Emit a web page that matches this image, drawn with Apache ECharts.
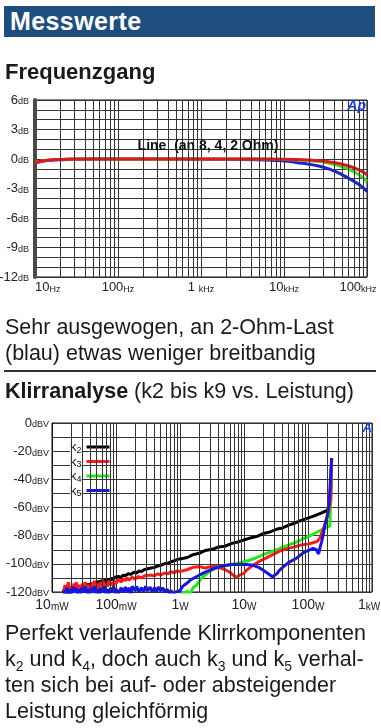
<!DOCTYPE html>
<html><head><meta charset="utf-8">
<script src="https://cdn.jsdelivr.net/npm/echarts@6/dist/echarts.min.js"></script>
<style>
html,body{margin:0;padding:0;width:381px;height:728px;overflow:hidden;background:#fff;font-family:'Liberation Sans',Arial,sans-serif;color:#1a1a1a}
#chart{position:absolute;left:0;top:0;width:381px;height:728px}
.t{position:absolute;left:5px;white-space:nowrap;z-index:2}
#hdr{position:absolute;left:4px;top:6px;width:371px;height:31px;background:#1d4e7d;color:#fff;font-weight:bold;font-size:25px;line-height:31px;padding-left:6px;box-sizing:border-box;letter-spacing:0.4px;z-index:2}
#h1{top:59px;font-size:22px;line-height:26px;font-weight:bold}
#p1{top:314px;font-size:21.5px;line-height:26px}
#sep{position:absolute;left:4px;top:370px;width:372px;height:2px;background:#333;z-index:2}
#h2{top:378px;font-size:21.5px;line-height:26px}
#p2{top:620px;font-size:21.5px;line-height:26px}
sub{font-size:14px;vertical-align:-5px;line-height:0}
</style></head>
<body>
<div id="chart"></div>
<div id="hdr">Messwerte</div>
<div class="t" id="h1">Frequenzgang</div>
<div class="t" id="p1">Sehr ausgewogen, an 2-Ohm-Last<br>(blau) etwas weniger breitbandig</div>
<div id="sep"></div>
<div class="t" id="h2"><b>Klirranalyse</b> (k2 bis k9 vs. Leistung)</div>
<div class="t" id="p2">Perfekt verlaufende Klirrkomponenten<br>k<sub>2</sub> und k<sub>4</sub>, doch auch k<sub>3</sub> und k<sub>5</sub> verhal-<br>ten sich bei auf- oder absteigender<br>Leistung gleichförmig</div>
<script>
// ---- Frequenzgang data: [Hz, dB]
const fg8Ohm = [[10,-0.35],[12,-0.2],[15,-0.1],[20,-0.05],[30,0],[100,0],[1000,0],[5000,0],[10000,-0.02],[14000,-0.05],[22400,-0.12],[36000,-0.3],[57000,-0.65],[80000,-1.1],[100000,-1.6]];
const fg4Ohm = [[10,-0.35],[12,-0.2],[15,-0.1],[20,-0.05],[30,0],[1000,0],[5000,-0.01],[10000,-0.05],[14000,-0.1],[22400,-0.2],[36000,-0.45],[57000,-0.95],[80000,-1.6],[100000,-2.3]];
const fg2Ohm = [[10,-0.4],[12,-0.25],[15,-0.15],[20,-0.08],[30,-0.03],[100,0],[1000,-0.02],[5000,-0.08],[10000,-0.2],[14000,-0.35],[22400,-0.6],[36000,-1.05],[57000,-1.85],[80000,-2.6],[100000,-3.3]];
const fgXTickLabels = [['10','Hz'],['100','Hz'],['1 ','kHz'],['10','kHz'],['100','kHz']];
const fgAnnotation = 'Line  (an 8, 4, 2 Ohm)';

// ---- Klirranalyse data: [W, dBV]
const k2 = [[0.015,-120],[0.016,-117],[0.017,-121],[0.018,-118],[0.019,-122],[0.02,-117],[0.021,-120],[0.023,-116],[0.024,-119],[0.026,-115.5],[0.027,-119],[0.029,-116],[0.031,-118.5],[0.033,-115],[0.035,-118],[0.037,-114],[0.04,-117],[0.042,-113.5],[0.045,-116],[0.048,-112.5],[0.051,-115],[0.054,-112],[0.057,-114.5],[0.06,-111.5],[0.064,-113.5],[0.068,-111],[0.072,-113],[0.076,-110.5],[0.08,-112],[0.085,-110],[0.09,-111.5],[0.095,-109.5],[0.1,-110.5],[0.11,-109],[0.12,-109.5],[0.13,-108],[0.14,-108.5],[0.155,-107],[0.17,-107.5],[0.19,-106],[0.21,-106.5],[0.23,-105],[0.25,-105.5],[0.28,-104],[0.3,-104.5],[0.35,-103],[0.4,-102.5],[0.45,-101.5],[0.5,-101],[0.57,-100],[0.65,-99.5],[0.73,-98.5],[0.8,-98],[0.9,-97],[1,-96.5],[1.3,-95.5],[1.6,-93.5],[2,-92.5],[2.5,-90.5],[3.3,-89.5],[4,-88],[5,-87.5],[6.5,-85.5],[8,-84.5],[10,-83],[13,-81.5],[16,-80.5],[20,-78.5],[25,-77.5],[32,-75.5],[40,-74.5],[50,-72.5],[63,-71],[80,-69],[100,-67.5],[125,-66],[160,-64],[200,-62],[225,-58],[234,-25]];
const k3 = [[0.015,-121],[0.016,-115],[0.017,-118],[0.018,-113],[0.019,-119],[0.02,-116],[0.021,-120],[0.022,-114],[0.023,-117],[0.024,-113],[0.025,-118],[0.027,-115],[0.028,-119],[0.03,-114],[0.031,-117],[0.033,-113],[0.035,-118],[0.037,-115],[0.039,-119],[0.041,-114],[0.043,-116],[0.046,-112],[0.048,-117],[0.051,-114],[0.054,-118],[0.057,-113],[0.06,-116],[0.063,-112],[0.067,-117],[0.07,-114],[0.074,-116],[0.078,-112],[0.082,-115],[0.087,-113],[0.092,-116],[0.097,-112],[0.1,-114],[0.11,-111],[0.12,-113],[0.13,-110.5],[0.14,-112],[0.15,-110],[0.16,-111.5],[0.18,-109.5],[0.2,-111],[0.22,-109],[0.25,-110],[0.28,-108.5],[0.3,-109.5],[0.35,-108],[0.4,-108.5],[0.45,-107],[0.5,-108],[0.57,-106.5],[0.65,-107],[0.73,-105.5],[0.8,-106.5],[0.9,-105],[1,-105.5],[1.3,-104],[1.6,-102.5],[2,-102],[2.5,-103],[3,-102],[3.5,-101.5],[4,-102.5],[5,-104],[6,-106],[7,-108.5],[7.7,-109.5],[8.5,-108],[9.7,-107],[11,-104.5],[13.8,-101],[17,-98.5],[22,-96],[28,-93.5],[36,-91],[45,-89.5],[55,-88.5],[66,-87.5],[80,-86.5],[100,-86],[120,-85],[140,-84],[154,-81.5],[170,-76],[185,-72],[205,-65],[225,-55],[234,-25]];
const k4 = [[0.9,-123],[1.1,-121],[1.3,-119.5],[1.45,-121],[1.6,-117],[1.83,-115],[2.1,-111],[2.3,-109],[2.7,-106.5],[3.3,-104],[4,-102.5],[5,-101.5],[6,-100.5],[8,-99.5],[11,-98],[15,-96],[20,-93.5],[28,-91],[36.5,-89],[50,-86.5],[66,-84.5],[90,-81.5],[120,-79],[160,-76],[220,-73.3],[234,-25]];
const k5 = [[0.015,-119],[0.016,-122],[0.017,-117],[0.018,-121],[0.019,-118],[0.02,-122],[0.021,-116],[0.022,-120],[0.023,-117],[0.025,-121],[0.026,-118],[0.028,-122],[0.029,-117],[0.031,-120],[0.033,-116],[0.035,-121],[0.037,-118],[0.039,-122],[0.041,-117],[0.044,-120],[0.046,-116],[0.049,-121],[0.052,-118],[0.055,-122],[0.058,-117],[0.062,-120],[0.065,-116],[0.069,-121],[0.073,-118],[0.077,-122],[0.082,-117],[0.087,-120],[0.092,-116],[0.097,-121],[0.1,-118],[0.11,-121],[0.12,-117],[0.13,-120],[0.14,-116.5],[0.15,-120],[0.16,-117],[0.17,-121],[0.18,-116],[0.2,-119],[0.21,-116],[0.23,-120],[0.25,-117],[0.27,-119.5],[0.29,-116],[0.31,-119],[0.34,-116.5],[0.37,-120],[0.4,-117],[0.43,-119.5],[0.46,-116.5],[0.5,-119],[0.54,-117],[0.58,-120],[0.63,-118],[0.68,-121],[0.73,-119],[0.8,-122],[0.86,-120],[0.92,-121],[1,-119],[1.1,-116],[1.26,-114],[1.45,-111.5],[1.83,-109],[2.2,-107],[2.6,-105.5],[3.3,-103.5],[4.2,-102],[5.3,-101],[6.7,-100.4],[8.5,-100.5],[11,-100.5],[13.8,-101],[17,-102.5],[20,-104.5],[24,-107],[28.5,-109.5],[30,-108],[32.7,-107],[36,-104.5],[41.5,-102],[50,-99],[66,-96],[85,-92],[120,-89],[135,-90],[146,-93],[155,-88],[164,-84],[175,-78],[184,-72],[200,-66],[215,-55],[234,-25]];
const thdSeriesNames = ['k2','k3','k4','k5'];
const thdXTickLabels = [['10','mW'],['100','mW'],['1','W'],['10','W'],['100','W'],['1','kW']];

const FONT = "'Liberation Sans', Arial, sans-serif";
const gridColor = '#333';
function minorLines(lo, hi){
  const a = [];
  for (let d = lo; d < hi * 0.999; d *= 10) for (let k = 2; k <= 9; k++) a.push({xAxis: +(d*k).toPrecision(6)});
  return a;
}
function unitRich(nSize, uSize){
  return {
    n:{fontSize:nSize, lineHeight:nSize, color:'#222', fontFamily:FONT, verticalAlign:'bottom'},
    u:{fontSize:uSize, lineHeight:uSize, color:'#222', fontFamily:FONT, verticalAlign:'bottom'},
    s:{width:18, fontSize:1}
  };
}
const chart = echarts.init(document.getElementById('chart'));
const lineCommon = {type:'line', showSymbol:false, symbol:'none', animation:false, z:3, emphasis:{disabled:true}};
const option = {
  animation:false,
  grid:[
    {left:35, top:100, width:332, height:177, show:true, borderColor:'#111', borderWidth:1, containLabel:false, outerBoundsMode:'none'},
    {left:52, top:423, width:320, height:169, show:true, borderColor:'#111', borderWidth:1, containLabel:false, outerBoundsMode:'none'}
  ],
  xAxis:[
    {gridIndex:0, type:'log', logBase:10, min:10, max:100000,
     axisLine:{show:false}, axisTick:{show:false},
     splitLine:{show:true, lineStyle:{color:gridColor, width:1}},
     axisLabel:{margin:4, showMinLabel:true, showMaxLabel:true, alignMinLabel:'left',
       formatter:v=>{const i=Math.round(Math.log10(v))-1; const l=fgXTickLabels[i]; if(!l) return ''; return '{n|'+l[0]+'}{u|'+l[1]+'}'+(i===4?'{s|}':'');},
       rich:unitRich(13,9)}},
    {gridIndex:1, type:'log', logBase:10, min:0.01, max:1000,
     axisLine:{show:false}, axisTick:{show:false},
     splitLine:{show:true, lineStyle:{color:gridColor, width:1}},
     axisLabel:{margin:6, showMinLabel:true, showMaxLabel:true,
       formatter:v=>{const i=Math.round(Math.log10(v))+2; const l=thdXTickLabels[i]; if(!l) return ''; return '{n|'+l[0]+'}{u|'+l[1]+'}'+(i===5?'{s|}':'');},
       rich:Object.assign(unitRich(14,10),{s:{width:6,fontSize:1}})}}
  ],
  yAxis:[
    {gridIndex:0, type:'value', min:-12, max:6, interval:1,
     axisLine:{show:true, lineStyle:{color:'#4a4a4a', width:4}}, axisTick:{show:false},
     splitLine:{show:true, lineStyle:{color:gridColor, width:1}},
     axisLabel:{margin:6, formatter:v=> (v%3===0 ? '{n|'+v+'}{u|dB}' : ''), rich:unitRich(13,9)}},
    {gridIndex:1, type:'value', min:-120, max:0, interval:10,
     axisLine:{show:true, lineStyle:{color:'#111', width:1}}, axisTick:{show:false},
     splitLine:{show:true, lineStyle:{color:gridColor, width:1}},
     axisLabel:{margin:3, formatter:v=> (v%20===0 ? '{n|'+v+'}{u|dBV}' : ''), rich:unitRich(13,9)}}
  ],
  legend:{data:thdSeriesNames, orient:'vertical', left:70, top:441, padding:0, itemGap:0.5,
    itemWidth:23, itemHeight:3, icon:'rect', align:'right', selectedMode:false,
    formatter:n=>'{k|k}{s|'+n.slice(1)+'}',
    textStyle:{backgroundColor:'#fff', rich:{
      k:{fontSize:13, lineHeight:12, verticalAlign:'top', color:'#111', fontFamily:FONT},
      s:{fontSize:9, lineHeight:8, padding:[5,0,0,0], verticalAlign:'top', color:'#111', fontFamily:FONT}}}},
  series:[
    {type:'line', xAxisIndex:0, yAxisIndex:0, data:[], silent:true, z:1, animation:false,
     markLine:{silent:true, symbol:'none', label:{show:false}, animation:false,
       lineStyle:{color:gridColor, width:1, type:'solid'}, emphasis:{disabled:true}, data:minorLines(10,100000)}},
    {type:'line', xAxisIndex:1, yAxisIndex:1, data:[], silent:true, z:1, animation:false,
     markLine:{silent:true, symbol:'none', label:{show:false}, animation:false,
       lineStyle:{color:gridColor, width:1, type:'solid'}, emphasis:{disabled:true}, data:minorLines(0.01,1000)}},
    Object.assign({}, lineCommon, {name:'2 Ohm', xAxisIndex:0, yAxisIndex:0, data:fg2Ohm, smooth:true, lineStyle:{color:'#1a22d6', width:3}, itemStyle:{color:'#1a22d6'}}),
    Object.assign({}, lineCommon, {name:'4 Ohm', xAxisIndex:0, yAxisIndex:0, data:fg4Ohm, smooth:true, lineStyle:{color:'#3ddc22', width:3}, itemStyle:{color:'#3ddc22'}}),
    Object.assign({}, lineCommon, {name:'8 Ohm', xAxisIndex:0, yAxisIndex:0, data:fg8Ohm, smooth:true, lineStyle:{color:'#e5141e', width:3}, itemStyle:{color:'#e5141e'}}),
    Object.assign({}, lineCommon, {name:'k2', xAxisIndex:1, yAxisIndex:1, data:k2, lineStyle:{color:'#000', width:3}, itemStyle:{color:'#000'}}),
    Object.assign({}, lineCommon, {name:'k4', xAxisIndex:1, yAxisIndex:1, data:k4, lineStyle:{color:'#22e81c', width:3}, itemStyle:{color:'#22e81c'}}),
    Object.assign({}, lineCommon, {name:'k3', xAxisIndex:1, yAxisIndex:1, data:k3, lineStyle:{color:'#ff1a1a', width:3}, itemStyle:{color:'#ff1a1a'}}),
    Object.assign({}, lineCommon, {name:'k5', xAxisIndex:1, yAxisIndex:1, data:k5, lineStyle:{color:'#1414ee', width:3}, itemStyle:{color:'#1414ee'}})
  ],
  graphic:[
    {type:'text', x:208, y:146, z:10, style:{text:fgAnnotation, font:"bold 14px 'Liberation Sans Narrow', 'Liberation Sans', sans-serif", fill:'#111', align:'center', verticalAlign:'middle'}},
    {type:'text', x:366, y:106, z:10, style:{text:'Ap', font:"italic bold 14px 'Liberation Sans', sans-serif", fill:'#1a3ee6', align:'right', verticalAlign:'middle'}},
    {type:'text', x:372, y:428, z:10, style:{text:'A', font:"italic bold 13px 'Liberation Sans', sans-serif", fill:'#1a3ee6', align:'right', verticalAlign:'middle'}}
  ]
};
chart.setOption(option);
</script>
</body></html>
